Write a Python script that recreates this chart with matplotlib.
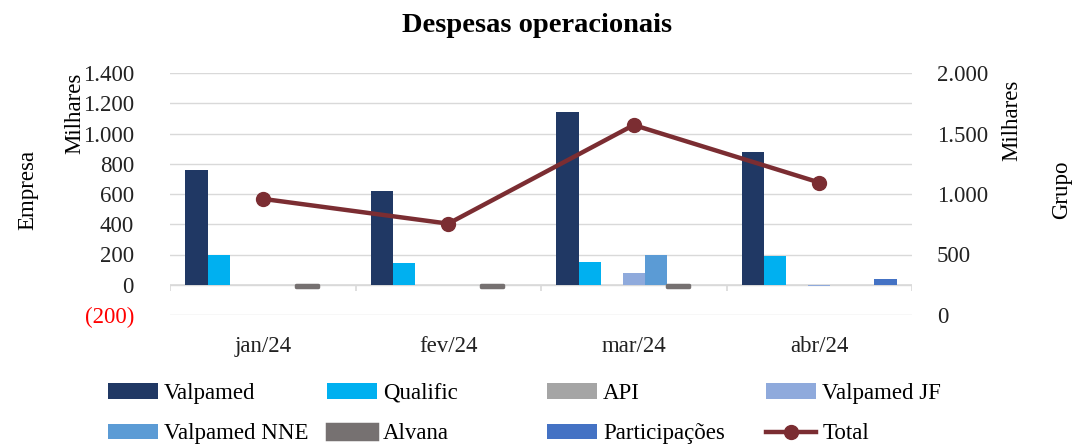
import numpy as np
import matplotlib
matplotlib.use("Agg")
import matplotlib.pyplot as plt
from matplotlib.patches import Patch
from matplotlib.lines import Line2D

plt.rcParams['font.family'] = ['Liberation Serif', 'DejaVu Serif']

meses = ['jan/24', 'fev/24', 'mar/24', 'abr/24']
series = ['Valpamed', 'Qualific', 'API', 'Valpamed JF', 'Valpamed NNE', 'Alvana', 'Participações']
valpamed = [760, 620, 1145, 880]
qualific = [200, 145, 150, 190]
api = [0, 0, 0, 0]
valpamed_jf = [-4, 0, 80, -5]
valpamed_nne = [0, 0, 195, 0]
alvana = [-12, -12, -12, 0]
participacoes = [-4, 0, -4, 35]
total = [960, 755, 1570, 1095]

cores = ['#203864', '#00B0F0', '#A5A5A5', '#8FAADC', '#5B9BD5', '#767171', '#4472C4']
cor_total = '#7B2D32'
dados = [valpamed, qualific, api, valpamed_jf, valpamed_nne, alvana, participacoes]

fig = plt.figure(figsize=(10.74, 4.47), dpi=100)
ax = fig.add_axes([170/1074, 1-315/447, (912-170)/1074, (315-73)/447])
ax2 = ax.twinx()

x = np.arange(len(meses))
w = 0.119
for i, (nome, vals) in enumerate(zip(series, dados)):
    if nome == 'Alvana':
        lws = [2.5 if v != 0 else 0 for v in vals]
        ax.bar(x + (i-3)*w, vals, w, color=cores[i], edgecolor=cores[i], linewidth=lws,
               joinstyle='round', zorder=3)
    else:
        ax.bar(x + (i-3)*w, vals, w, color=cores[i], zorder=3)

ax2.plot(x, total, color=cor_total, lw=3.2, marker='o', ms=10, zorder=4)

ax.set_xlim(-0.5, 3.5)
ax.set_ylim(-200, 1400)
ax2.set_ylim(0, 2000)
ax.set_yticks(np.arange(-200, 1401, 200))
ax.set_yticklabels(['(200)'] + [f'{v:,}'.replace(',', '.') for v in range(0, 1401, 200)])
ax2.set_yticks(np.arange(0, 2001, 500))
ax2.set_yticklabels([f'{v:,}'.replace(',', '.') for v in range(0, 2001, 500)])

ax.grid(axis='y', color='#D9D9D9', lw=1, zorder=0)
ax.set_axisbelow(True)
for a in (ax, ax2):
    for s in a.spines.values():
        s.set_visible(False)
    a.tick_params(length=0, labelsize=16.5, colors='#222222')
ax.get_yticklabels()[0].set_color('red')
ax.tick_params(axis='y', pad=26)
ax2.tick_params(axis='y', pad=18)

ax.set_xticks(x)
ax.set_xticklabels(meses)
ax.tick_params(axis='x', pad=15)

# eixo das categorias no zero
ax.axhline(0, color='#D9D9D9', lw=1.2, zorder=2)
ax.vlines(np.arange(-0.5, 4), -40, 0, color='#D9D9D9', lw=1.2, zorder=2)

fig.text(0.5, 1-25/447, 'Despesas operacionais', ha='center', va='center',
         fontsize=20.5, fontweight='bold')
fig.text(28/1074, 1-190/447, 'Empresa', rotation=90, ha='center', va='center', fontsize=16.5)
fig.text(75/1074, 1-73/447, 'Milhares', rotation=90, ha='center', va='top', fontsize=16.5)
fig.text(1012/1074, 1-80/447, 'Milhares', rotation=90, ha='center', va='top', fontsize=16.5)
fig.text(1062/1074, 1-190/447, 'Grupo', rotation=90, ha='center', va='center', fontsize=16.5)

handles = []
for i, nome in enumerate(series):
    if nome == 'Alvana':
        handles.append(Patch(facecolor=cores[i], edgecolor=cores[i], lw=2.5, label=nome))
    else:
        handles.append(Patch(facecolor=cores[i], label=nome))
handles.append(Line2D([], [], color=cor_total, lw=3.2, marker='o', ms=10, label='Total'))

colunas = [[0, 4], [1, 5], [2, 6], [3, 7]]
x_col = [116, 335, 555, 774]
for cx, idx in zip(x_col, colunas):
    fig.legend([handles[k] for k in idx], [handles[k].get_label() for k in idx],
               loc='upper left', bbox_to_anchor=((cx-8)/1074, 1-383/447),
               frameon=False, fontsize=16.5, handlelength=2.2, handleheight=0.65,
               handletextpad=0.25, labelspacing=0.85, borderpad=0, borderaxespad=0)

fig.savefig('out.png', dpi=100)
